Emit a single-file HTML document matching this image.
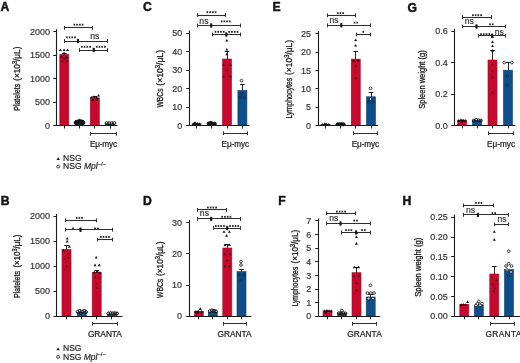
<!DOCTYPE html>
<html><head><meta charset="utf-8"><style>
html,body{margin:0;padding:0;background:#fff;}
svg{display:block;filter:blur(0.25px);}
text{font-family:"Liberation Sans", sans-serif;}
</style></head><body>
<svg width="520" height="363" viewBox="0 0 520 363">
<rect width="520" height="363" fill="#fff"/>
<text x="0.6" y="11.2" font-size="12.2" text-anchor="start" font-weight="bold" fill="#111" stroke="#111" stroke-width="0.45" >A</text>
<rect x="59.8" y="54.5" width="9" height="71.0" fill="#c6092c" stroke="#a3082a" stroke-width="0.6"/>
<rect x="75.0" y="122.5" width="9" height="3.0" fill="#0e4f8b" stroke="#0b3f70" stroke-width="0.6"/>
<rect x="90.3" y="97.8" width="9" height="27.700000000000003" fill="#c6092c" stroke="#a3082a" stroke-width="0.6"/>
<rect x="105.5" y="123.8" width="9" height="1.7000000000000028" fill="#0e4f8b" stroke="#0b3f70" stroke-width="0.6"/>
<line x1="64.5" y1="54.5" x2="64.5" y2="53" stroke="#111" stroke-width="0.9"/>
<line x1="62.0" y1="53.5" x2="66.6" y2="53.5" stroke="#111" stroke-width="1.0"/>
<path d="M58.90,51.10L60.40,48.49L61.90,51.10Z" fill="#111"/>
<path d="M62.60,51.10L64.10,48.49L65.60,51.10Z" fill="#111"/>
<path d="M66.00,51.10L67.50,48.49L69.00,51.10Z" fill="#111"/>
<path d="M62.60,54.30L64.10,51.70L65.60,54.30Z" fill="#111"/>
<path d="M60.00,57.80L61.50,55.20L63.00,57.80Z" fill="#111"/>
<path d="M65.00,58.30L66.50,55.70L68.00,58.30Z" fill="#111"/>
<g opacity="0.55">
<path d="M60.50,62.30L62.00,59.70L63.50,62.30Z" fill="#111"/>
</g>
<g opacity="0.55">
<path d="M65.50,62.30L67.00,59.70L68.50,62.30Z" fill="#111"/>
</g>
<g opacity="0.55">
<path d="M63.00,59.80L64.50,57.20L66.00,59.80Z" fill="#111"/>
</g>
<circle cx="75.6" cy="122.8" r="1.45" fill="#1a1a1a" stroke="#111" stroke-width="1.0"/>
<circle cx="77.6" cy="121.6" r="1.45" fill="#1a1a1a" stroke="#111" stroke-width="1.0"/>
<circle cx="79.6" cy="122.6" r="1.45" fill="#1a1a1a" stroke="#111" stroke-width="1.0"/>
<circle cx="81.6" cy="121.4" r="1.45" fill="#1a1a1a" stroke="#111" stroke-width="1.0"/>
<circle cx="83.4" cy="122.8" r="1.45" fill="#1a1a1a" stroke="#111" stroke-width="1.0"/>
<circle cx="77" cy="123.6" r="1.45" fill="#1a1a1a" stroke="#111" stroke-width="1.0"/>
<circle cx="82" cy="123.6" r="1.45" fill="#1a1a1a" stroke="#111" stroke-width="1.0"/>
<circle cx="79.5" cy="120.8" r="1.45" fill="#1a1a1a" stroke="#111" stroke-width="1.0"/>
<circle cx="78.5" cy="122.2" r="1.45" fill="#1a1a1a" stroke="#111" stroke-width="1.0"/>
<circle cx="80.6" cy="122.2" r="1.45" fill="#1a1a1a" stroke="#111" stroke-width="1.0"/>
<circle cx="76.4" cy="121.8" r="1.45" fill="#1a1a1a" stroke="#111" stroke-width="1.0"/>
<circle cx="82.8" cy="121.8" r="1.45" fill="#1a1a1a" stroke="#111" stroke-width="1.0"/>
<line x1="94.5" y1="97.8" x2="94.5" y2="96.5" stroke="#111" stroke-width="0.9"/>
<line x1="92.5" y1="96.5" x2="97.1" y2="96.5" stroke="#111" stroke-width="1.0"/>
<path d="M90.00,98.51L91.50,95.89L93.00,98.51Z" fill="#111"/>
<path d="M92.50,97.81L94.00,95.19L95.50,97.81Z" fill="#111"/>
<path d="M95.00,98.81L96.50,96.19L98.00,98.81Z" fill="#111"/>
<path d="M97.00,96.61L98.50,93.99L100.00,96.61Z" fill="#111"/>
<path d="M91.50,100.81L93.00,98.19L94.50,100.81Z" fill="#111"/>
<path d="M95.50,100.81L97.00,98.19L98.50,100.81Z" fill="#111"/>
<circle cx="106.6" cy="123.1" r="1.45" fill="none" stroke="#111" stroke-width="1.0"/>
<circle cx="109.2" cy="123.1" r="1.45" fill="none" stroke="#111" stroke-width="1.0"/>
<circle cx="111.8" cy="123.1" r="1.45" fill="none" stroke="#111" stroke-width="1.0"/>
<circle cx="114.4" cy="123.1" r="1.45" fill="none" stroke="#111" stroke-width="1.0"/>
<line x1="56.5" y1="29.2" x2="56.5" y2="126.0" stroke="#1a1a1a" stroke-width="1.1"/>
<line x1="55.75" y1="125.5" x2="117.5" y2="125.5" stroke="#1a1a1a" stroke-width="1.1"/>
<line x1="53.25" y1="31.5" x2="56.25" y2="31.5" stroke="#1a1a1a" stroke-width="1"/>
<text x="50.0" y="34.95" font-size="9" text-anchor="end" font-weight="normal" fill="#333" stroke="#333" stroke-width="0.18" >2000</text>
<line x1="53.25" y1="55.5" x2="56.25" y2="55.5" stroke="#1a1a1a" stroke-width="1"/>
<text x="50.0" y="58.45" font-size="9" text-anchor="end" font-weight="normal" fill="#333" stroke="#333" stroke-width="0.18" >1500</text>
<line x1="53.25" y1="78.5" x2="56.25" y2="78.5" stroke="#1a1a1a" stroke-width="1"/>
<text x="50.0" y="81.95" font-size="9" text-anchor="end" font-weight="normal" fill="#333" stroke="#333" stroke-width="0.18" >1000</text>
<line x1="53.25" y1="102.5" x2="56.25" y2="102.5" stroke="#1a1a1a" stroke-width="1"/>
<text x="50.0" y="105.45" font-size="9" text-anchor="end" font-weight="normal" fill="#333" stroke="#333" stroke-width="0.18" >500</text>
<line x1="53.25" y1="125.5" x2="56.25" y2="125.5" stroke="#1a1a1a" stroke-width="1"/>
<text x="50.0" y="128.7" font-size="9" text-anchor="end" font-weight="normal" fill="#333" stroke="#333" stroke-width="0.18" >0</text>
<line x1="64.5" y1="125.5" x2="64.5" y2="128.5" stroke="#1a1a1a" stroke-width="1"/>
<line x1="79.5" y1="125.5" x2="79.5" y2="128.5" stroke="#1a1a1a" stroke-width="1"/>
<line x1="94.5" y1="125.5" x2="94.5" y2="128.5" stroke="#1a1a1a" stroke-width="1"/>
<line x1="110.5" y1="125.5" x2="110.5" y2="128.5" stroke="#1a1a1a" stroke-width="1"/>
<text transform="translate(19.8,110.8) rotate(-90)" x="0" y="0" font-size="9.2" text-anchor="start" fill="#1a1a1a" stroke="#1a1a1a" stroke-width="0.3" textLength="27.00" lengthAdjust="spacingAndGlyphs">Platelets</text>
<text transform="translate(19.8,80.8) rotate(-90)" x="0" y="0" font-size="9.2" text-anchor="start" fill="#1a1a1a" stroke="#1a1a1a" stroke-width="0.3" textLength="34.20" lengthAdjust="spacingAndGlyphs">(×10<tspan font-size="6.3" dy="-2.8">3</tspan><tspan dy="2.8">/μL)</tspan></text>
<line x1="64.3" y1="27.5" x2="92.8" y2="27.5" stroke="#2e2e2e" stroke-width="1.1"/>
<line x1="64.5" y1="25.900000000000002" x2="64.5" y2="29.7" stroke="#2e2e2e" stroke-width="1.1"/>
<line x1="92.5" y1="25.900000000000002" x2="92.5" y2="29.7" stroke="#2e2e2e" stroke-width="1.1"/>
<path d="M74.38,23.75L74.38,25.65M73.55,24.22L75.20,25.18M73.55,25.18L75.20,24.22" stroke="#222" stroke-width="0.85" fill="none"/>
<path d="M77.12,23.75L77.12,25.65M76.30,24.22L77.95,25.18M76.30,25.18L77.95,24.22" stroke="#222" stroke-width="0.85" fill="none"/>
<path d="M79.88,23.75L79.88,25.65M79.05,24.22L80.70,25.18M79.05,25.18L80.70,24.22" stroke="#222" stroke-width="0.85" fill="none"/>
<path d="M82.62,23.75L82.62,25.65M81.80,24.22L83.45,25.18M81.80,25.18L83.45,24.22" stroke="#222" stroke-width="0.85" fill="none"/>
<line x1="64.3" y1="41.5" x2="107.5" y2="41.5" stroke="#2e2e2e" stroke-width="1.0"/>
<line x1="64.5" y1="39.1" x2="64.5" y2="42.9" stroke="#2e2e2e" stroke-width="1.0"/>
<line x1="107.5" y1="39.1" x2="107.5" y2="42.9" stroke="#2e2e2e" stroke-width="1.0"/>
<rect x="76.9" y="38.8" width="2.2" height="4.4" rx="0.7" fill="#1a1a1a"/>
<path d="M66.78,36.45L66.78,38.35M65.95,36.92L67.60,37.88M65.95,37.88L67.60,36.92" stroke="#222" stroke-width="0.85" fill="none"/>
<path d="M69.53,36.45L69.53,38.35M68.70,36.92L70.35,37.88M68.70,37.88L70.35,36.92" stroke="#222" stroke-width="0.85" fill="none"/>
<path d="M72.28,36.45L72.28,38.35M71.45,36.92L73.10,37.88M71.45,37.88L73.10,36.92" stroke="#222" stroke-width="0.85" fill="none"/>
<path d="M75.03,36.45L75.03,38.35M74.20,36.92L75.85,37.88M74.20,37.88L75.85,36.92" stroke="#222" stroke-width="0.85" fill="none"/>
<text x="94.75" y="38.5" font-size="8.6" text-anchor="middle" font-weight="normal" fill="#333" stroke="#333" stroke-width="0.18" >ns</text>
<line x1="79.5" y1="50.5" x2="107.5" y2="50.5" stroke="#2e2e2e" stroke-width="1.0"/>
<line x1="79.5" y1="48.1" x2="79.5" y2="51.9" stroke="#2e2e2e" stroke-width="1.0"/>
<line x1="107.5" y1="48.1" x2="107.5" y2="51.9" stroke="#2e2e2e" stroke-width="1.0"/>
<rect x="92.7" y="47.8" width="2.2" height="4.4" rx="0.7" fill="#1a1a1a"/>
<path d="M81.88,45.85L81.88,47.75M81.05,46.32L82.70,47.27M81.05,47.27L82.70,46.32" stroke="#222" stroke-width="0.85" fill="none"/>
<path d="M84.62,45.85L84.62,47.75M83.80,46.32L85.45,47.27M83.80,47.27L85.45,46.32" stroke="#222" stroke-width="0.85" fill="none"/>
<path d="M87.38,45.85L87.38,47.75M86.55,46.32L88.20,47.27M86.55,47.27L88.20,46.32" stroke="#222" stroke-width="0.85" fill="none"/>
<path d="M90.12,45.85L90.12,47.75M89.30,46.32L90.95,47.27M89.30,47.27L90.95,46.32" stroke="#222" stroke-width="0.85" fill="none"/>
<path d="M96.67,45.85L96.67,47.75M95.85,46.32L97.50,47.27M95.85,47.27L97.50,46.32" stroke="#222" stroke-width="0.85" fill="none"/>
<path d="M99.42,45.85L99.42,47.75M98.60,46.32L100.25,47.27M98.60,47.27L100.25,46.32" stroke="#222" stroke-width="0.85" fill="none"/>
<path d="M102.17,45.85L102.17,47.75M101.35,46.32L103.00,47.27M101.35,47.27L103.00,46.32" stroke="#222" stroke-width="0.85" fill="none"/>
<path d="M104.92,45.85L104.92,47.75M104.10,46.32L105.75,47.27M104.10,47.27L105.75,46.32" stroke="#222" stroke-width="0.85" fill="none"/>
<line x1="90.4" y1="133.5" x2="116.2" y2="133.5" stroke="#2e2e2e" stroke-width="1.0"/>
<line x1="90.5" y1="131.9" x2="90.5" y2="135.70000000000002" stroke="#2e2e2e" stroke-width="1.0"/>
<line x1="116.5" y1="131.9" x2="116.5" y2="135.70000000000002" stroke="#2e2e2e" stroke-width="1.0"/>
<text x="103.5" y="146.8" font-size="8.2" text-anchor="middle" font-weight="normal" fill="#222" stroke="#222" stroke-width="0.22" textLength="27" lengthAdjust="spacing" >Eμ-myc</text>
<text x="143.1" y="11.3" font-size="12.2" text-anchor="start" font-weight="bold" fill="#111" stroke="#111" stroke-width="0.45" >C</text>
<rect x="192.0" y="123.7" width="9" height="1.7999999999999972" fill="#c6092c" stroke="#a3082a" stroke-width="0.6"/>
<rect x="207.25" y="124.2" width="9" height="1.2999999999999972" fill="#0e4f8b" stroke="#0b3f70" stroke-width="0.6"/>
<rect x="222.5" y="59" width="9" height="66.5" fill="#c6092c" stroke="#a3082a" stroke-width="0.6"/>
<rect x="237.9" y="90.5" width="9" height="35.0" fill="#0e4f8b" stroke="#0b3f70" stroke-width="0.6"/>
<path d="M192.00,124.99L193.60,122.21L195.20,124.99Z" fill="#111"/>
<path d="M194.00,124.39L195.60,121.61L197.20,124.39Z" fill="#111"/>
<path d="M196.00,124.79L197.60,122.01L199.20,124.79Z" fill="#111"/>
<path d="M198.00,124.99L199.60,122.21L201.20,124.99Z" fill="#111"/>
<path d="M194.90,125.39L196.50,122.61L198.10,125.39Z" fill="#111"/>
<path d="M193.20,123.99L194.80,121.21L196.40,123.99Z" fill="#111"/>
<circle cx="208.6" cy="123.5" r="1.45" fill="#1a1a1a" stroke="#111" stroke-width="1.0"/>
<circle cx="210.6" cy="122.8" r="1.45" fill="#1a1a1a" stroke="#111" stroke-width="1.0"/>
<circle cx="212.6" cy="123.5" r="1.45" fill="#1a1a1a" stroke="#111" stroke-width="1.0"/>
<circle cx="214.8" cy="123.6" r="1.45" fill="#1a1a1a" stroke="#111" stroke-width="1.0"/>
<circle cx="211.5" cy="124" r="1.45" fill="#1a1a1a" stroke="#111" stroke-width="1.0"/>
<line x1="227.5" y1="59" x2="227.5" y2="51.2" stroke="#111" stroke-width="0.9"/>
<line x1="224.7" y1="51.5" x2="229.3" y2="51.5" stroke="#111" stroke-width="1.0"/>
<path d="M225.30,50.51L226.80,47.90L228.30,50.51Z" fill="#111"/>
<path d="M225.30,41.51L226.80,38.90L228.30,41.51Z" fill="#111"/>
<path d="M225.30,55.30L226.80,52.70L228.30,55.30Z" fill="#111"/>
<g opacity="0.55">
<path d="M222.00,65.91L223.50,63.29L225.00,65.91Z" fill="#111"/>
</g>
<g opacity="0.55">
<path d="M229.00,65.91L230.50,63.29L232.00,65.91Z" fill="#111"/>
</g>
<g opacity="0.55">
<path d="M222.00,77.51L223.50,74.89L225.00,77.51Z" fill="#111"/>
</g>
<g opacity="0.55">
<path d="M229.00,77.51L230.50,74.89L232.00,77.51Z" fill="#111"/>
</g>
<g opacity="0.55">
<path d="M225.50,71.31L227.00,68.69L228.50,71.31Z" fill="#111"/>
</g>
<line x1="242.5" y1="90.5" x2="242.5" y2="84.3" stroke="#111" stroke-width="0.9"/>
<line x1="240.1" y1="84.5" x2="244.70000000000002" y2="84.5" stroke="#111" stroke-width="1.0"/>
<circle cx="241.5" cy="80.7" r="1.35" fill="#fff" stroke="#111" stroke-width="0.8"/>
<g opacity="0.55">
<circle cx="242" cy="93.5" r="1.35" fill="none" stroke="#111" stroke-width="0.8"/>
</g>
<g opacity="0.55">
<circle cx="240" cy="97.5" r="1.35" fill="none" stroke="#111" stroke-width="0.8"/>
</g>
<g opacity="0.55">
<circle cx="244.5" cy="97.5" r="1.35" fill="none" stroke="#111" stroke-width="0.8"/>
</g>
<line x1="189.5" y1="30.5" x2="189.5" y2="126.0" stroke="#1a1a1a" stroke-width="1.1"/>
<line x1="188.75" y1="125.5" x2="249.5" y2="125.5" stroke="#1a1a1a" stroke-width="1.1"/>
<line x1="186.25" y1="33.5" x2="189.25" y2="33.5" stroke="#1a1a1a" stroke-width="1"/>
<text x="182.2" y="36.2" font-size="9" text-anchor="end" font-weight="normal" fill="#333" stroke="#333" stroke-width="0.18" >50</text>
<line x1="186.25" y1="51.5" x2="189.25" y2="51.5" stroke="#1a1a1a" stroke-width="1"/>
<text x="182.2" y="54.7" font-size="9" text-anchor="end" font-weight="normal" fill="#333" stroke="#333" stroke-width="0.18" >40</text>
<line x1="186.25" y1="70.5" x2="189.25" y2="70.5" stroke="#1a1a1a" stroke-width="1"/>
<text x="182.2" y="73.2" font-size="9" text-anchor="end" font-weight="normal" fill="#333" stroke="#333" stroke-width="0.18" >30</text>
<line x1="186.25" y1="88.5" x2="189.25" y2="88.5" stroke="#1a1a1a" stroke-width="1"/>
<text x="182.2" y="91.7" font-size="9" text-anchor="end" font-weight="normal" fill="#333" stroke="#333" stroke-width="0.18" >20</text>
<line x1="186.25" y1="107.5" x2="189.25" y2="107.5" stroke="#1a1a1a" stroke-width="1"/>
<text x="182.2" y="110.2" font-size="9" text-anchor="end" font-weight="normal" fill="#333" stroke="#333" stroke-width="0.18" >10</text>
<line x1="186.25" y1="125.5" x2="189.25" y2="125.5" stroke="#1a1a1a" stroke-width="1"/>
<text x="182.2" y="128.7" font-size="9" text-anchor="end" font-weight="normal" fill="#333" stroke="#333" stroke-width="0.18" >0</text>
<line x1="196.5" y1="125.5" x2="196.5" y2="128.5" stroke="#1a1a1a" stroke-width="1"/>
<line x1="211.5" y1="125.5" x2="211.5" y2="128.5" stroke="#1a1a1a" stroke-width="1"/>
<line x1="227.5" y1="125.5" x2="227.5" y2="128.5" stroke="#1a1a1a" stroke-width="1"/>
<line x1="242.5" y1="125.5" x2="242.5" y2="128.5" stroke="#1a1a1a" stroke-width="1"/>
<text transform="translate(163.2,107.5) rotate(-90)" x="0" y="0" font-size="9.2" text-anchor="start" fill="#1a1a1a" stroke="#1a1a1a" stroke-width="0.3" textLength="19.00" lengthAdjust="spacingAndGlyphs">WBCs</text>
<text transform="translate(163.2,85.7) rotate(-90)" x="0" y="0" font-size="9.2" text-anchor="start" fill="#1a1a1a" stroke="#1a1a1a" stroke-width="0.3" textLength="35.70" lengthAdjust="spacingAndGlyphs">(×10<tspan font-size="6.3" dy="-2.8">3</tspan><tspan dy="2.8">/μL)</tspan></text>
<line x1="197.5" y1="15.5" x2="225.5" y2="15.5" stroke="#2e2e2e" stroke-width="1.1"/>
<line x1="197.5" y1="13.1" x2="197.5" y2="16.9" stroke="#2e2e2e" stroke-width="1.1"/>
<line x1="225.5" y1="13.1" x2="225.5" y2="16.9" stroke="#2e2e2e" stroke-width="1.1"/>
<path d="M207.38,11.25L207.38,13.15M206.55,11.72L208.20,12.67M206.55,12.67L208.20,11.72" stroke="#222" stroke-width="0.85" fill="none"/>
<path d="M210.12,11.25L210.12,13.15M209.30,11.72L210.95,12.67M209.30,12.67L210.95,11.72" stroke="#222" stroke-width="0.85" fill="none"/>
<path d="M212.88,11.25L212.88,13.15M212.05,11.72L213.70,12.67M212.05,12.67L213.70,11.72" stroke="#222" stroke-width="0.85" fill="none"/>
<path d="M215.62,11.25L215.62,13.15M214.80,11.72L216.45,12.67M214.80,12.67L216.45,11.72" stroke="#222" stroke-width="0.85" fill="none"/>
<line x1="197.5" y1="25.5" x2="240.2" y2="25.5" stroke="#2e2e2e" stroke-width="1.0"/>
<line x1="197.5" y1="23.6" x2="197.5" y2="27.4" stroke="#2e2e2e" stroke-width="1.0"/>
<line x1="240.5" y1="23.6" x2="240.5" y2="27.4" stroke="#2e2e2e" stroke-width="1.0"/>
<rect x="210.1" y="23.3" width="2.2" height="4.4" rx="0.7" fill="#1a1a1a"/>
<text x="203.9" y="23.5" font-size="8.6" text-anchor="middle" font-weight="normal" fill="#333" stroke="#333" stroke-width="0.18" >ns</text>
<path d="M221.62,20.45L221.62,22.35M220.80,20.92L222.45,21.88M220.80,21.88L222.45,20.92" stroke="#222" stroke-width="0.85" fill="none"/>
<path d="M224.38,20.45L224.38,22.35M223.55,20.92L225.20,21.88M223.55,21.88L225.20,20.92" stroke="#222" stroke-width="0.85" fill="none"/>
<path d="M227.12,20.45L227.12,22.35M226.30,20.92L227.95,21.88M226.30,21.88L227.95,20.92" stroke="#222" stroke-width="0.85" fill="none"/>
<path d="M229.88,20.45L229.88,22.35M229.05,20.92L230.70,21.88M229.05,21.88L230.70,20.92" stroke="#222" stroke-width="0.85" fill="none"/>
<line x1="212.5" y1="34.5" x2="240.2" y2="34.5" stroke="#2e2e2e" stroke-width="1.0"/>
<line x1="212.5" y1="32.6" x2="212.5" y2="36.4" stroke="#2e2e2e" stroke-width="1.0"/>
<line x1="240.5" y1="32.6" x2="240.5" y2="36.4" stroke="#2e2e2e" stroke-width="1.0"/>
<rect x="225.20000000000002" y="32.3" width="2.2" height="4.4" rx="0.7" fill="#1a1a1a"/>
<path d="M215.47,30.85L215.47,32.75M214.65,31.32L216.30,32.27M214.65,32.27L216.30,31.32" stroke="#222" stroke-width="0.85" fill="none"/>
<path d="M218.22,30.85L218.22,32.75M217.40,31.32L219.05,32.27M217.40,32.27L219.05,31.32" stroke="#222" stroke-width="0.85" fill="none"/>
<path d="M220.97,30.85L220.97,32.75M220.15,31.32L221.80,32.27M220.15,32.27L221.80,31.32" stroke="#222" stroke-width="0.85" fill="none"/>
<path d="M223.72,30.85L223.72,32.75M222.90,31.32L224.55,32.27M222.90,32.27L224.55,31.32" stroke="#222" stroke-width="0.85" fill="none"/>
<path d="M229.18,30.85L229.18,32.75M228.35,31.32L230.00,32.27M228.35,32.27L230.00,31.32" stroke="#222" stroke-width="0.85" fill="none"/>
<path d="M231.93,30.85L231.93,32.75M231.10,31.32L232.75,32.27M231.10,32.27L232.75,31.32" stroke="#222" stroke-width="0.85" fill="none"/>
<path d="M234.68,30.85L234.68,32.75M233.85,31.32L235.50,32.27M233.85,32.27L235.50,31.32" stroke="#222" stroke-width="0.85" fill="none"/>
<path d="M237.43,30.85L237.43,32.75M236.60,31.32L238.25,32.27M236.60,32.27L238.25,31.32" stroke="#222" stroke-width="0.85" fill="none"/>
<line x1="223.25" y1="133.5" x2="247" y2="133.5" stroke="#2e2e2e" stroke-width="1.0"/>
<line x1="223.5" y1="131.35" x2="223.5" y2="135.15" stroke="#2e2e2e" stroke-width="1.0"/>
<line x1="247.5" y1="131.35" x2="247.5" y2="135.15" stroke="#2e2e2e" stroke-width="1.0"/>
<text x="235.3" y="146.5" font-size="8.2" text-anchor="middle" font-weight="normal" fill="#222" stroke="#222" stroke-width="0.22" textLength="27.5" lengthAdjust="spacing" >Eμ-myc</text>
<text x="272.5" y="11.3" font-size="12.2" text-anchor="start" font-weight="bold" fill="#111" stroke="#111" stroke-width="0.45" >E</text>
<rect x="321.0" y="124.4" width="9" height="1.0999999999999943" fill="#c6092c" stroke="#a3082a" stroke-width="0.6"/>
<rect x="336.0" y="124.6" width="9" height="0.9000000000000057" fill="#0e4f8b" stroke="#0b3f70" stroke-width="0.6"/>
<rect x="351.25" y="59.1" width="9" height="66.4" fill="#c6092c" stroke="#a3082a" stroke-width="0.6"/>
<rect x="366.5" y="96.8" width="9" height="28.700000000000003" fill="#0e4f8b" stroke="#0b3f70" stroke-width="0.6"/>
<path d="M321.00,125.69L322.60,122.91L324.20,125.69Z" fill="#111"/>
<path d="M323.00,124.99L324.60,122.21L326.20,124.99Z" fill="#111"/>
<path d="M325.00,125.29L326.60,122.51L328.20,125.29Z" fill="#111"/>
<path d="M327.00,125.69L328.60,122.91L330.20,125.69Z" fill="#111"/>
<path d="M323.90,125.99L325.50,123.21L327.10,125.99Z" fill="#111"/>
<circle cx="337.6" cy="124.3" r="1.45" fill="#1a1a1a" stroke="#111" stroke-width="1.0"/>
<circle cx="339.6" cy="124.1" r="1.45" fill="#1a1a1a" stroke="#111" stroke-width="1.0"/>
<circle cx="341.6" cy="124.1" r="1.45" fill="#1a1a1a" stroke="#111" stroke-width="1.0"/>
<circle cx="343.6" cy="124.3" r="1.45" fill="#1a1a1a" stroke="#111" stroke-width="1.0"/>
<line x1="355.5" y1="59.1" x2="355.5" y2="51.2" stroke="#111" stroke-width="0.9"/>
<line x1="353.45" y1="51.5" x2="358.05" y2="51.5" stroke="#111" stroke-width="1.0"/>
<path d="M354.10,46.60L355.60,43.99L357.10,46.60Z" fill="#111"/>
<path d="M354.10,41.10L355.60,38.49L357.10,41.10Z" fill="#111"/>
<g opacity="0.55">
<path d="M354.30,66.81L355.80,64.19L357.30,66.81Z" fill="#111"/>
</g>
<g opacity="0.55">
<path d="M354.30,79.31L355.80,76.69L357.30,79.31Z" fill="#111"/>
</g>
<path d="M351.80,61.80L353.30,59.20L354.80,61.80Z" fill="#111"/>
<path d="M356.70,61.80L358.20,59.20L359.70,61.80Z" fill="#111"/>
<line x1="371.5" y1="96.8" x2="371.5" y2="92.7" stroke="#111" stroke-width="0.9"/>
<line x1="368.7" y1="92.5" x2="373.3" y2="92.5" stroke="#111" stroke-width="1.0"/>
<circle cx="370.6" cy="88.4" r="1.35" fill="#fff" stroke="#111" stroke-width="0.8"/>
<circle cx="370.6" cy="99" r="1.35" fill="#fff" stroke="#111" stroke-width="0.8"/>
<g opacity="0.55">
<circle cx="368.5" cy="102" r="1.35" fill="none" stroke="#111" stroke-width="0.8"/>
</g>
<g opacity="0.55">
<circle cx="373" cy="102" r="1.35" fill="none" stroke="#111" stroke-width="0.8"/>
</g>
<line x1="318.5" y1="31" x2="318.5" y2="126.0" stroke="#1a1a1a" stroke-width="1.1"/>
<line x1="318.0" y1="125.5" x2="378" y2="125.5" stroke="#1a1a1a" stroke-width="1.1"/>
<line x1="315.5" y1="33.5" x2="318.5" y2="33.5" stroke="#1a1a1a" stroke-width="1"/>
<text x="311.1" y="36.95" font-size="9" text-anchor="end" font-weight="normal" fill="#333" stroke="#333" stroke-width="0.18" >25</text>
<line x1="315.5" y1="52.5" x2="318.5" y2="52.5" stroke="#1a1a1a" stroke-width="1"/>
<text x="311.1" y="55.300000000000004" font-size="9" text-anchor="end" font-weight="normal" fill="#333" stroke="#333" stroke-width="0.18" >20</text>
<line x1="315.5" y1="70.5" x2="318.5" y2="70.5" stroke="#1a1a1a" stroke-width="1"/>
<text x="311.1" y="73.60000000000001" font-size="9" text-anchor="end" font-weight="normal" fill="#333" stroke="#333" stroke-width="0.18" >15</text>
<line x1="315.5" y1="88.5" x2="318.5" y2="88.5" stroke="#1a1a1a" stroke-width="1"/>
<text x="311.1" y="92.0" font-size="9" text-anchor="end" font-weight="normal" fill="#333" stroke="#333" stroke-width="0.18" >10</text>
<line x1="315.5" y1="107.5" x2="318.5" y2="107.5" stroke="#1a1a1a" stroke-width="1"/>
<text x="311.1" y="110.3" font-size="9" text-anchor="end" font-weight="normal" fill="#333" stroke="#333" stroke-width="0.18" >5</text>
<line x1="315.5" y1="125.5" x2="318.5" y2="125.5" stroke="#1a1a1a" stroke-width="1"/>
<text x="311.1" y="128.7" font-size="9" text-anchor="end" font-weight="normal" fill="#333" stroke="#333" stroke-width="0.18" >0</text>
<line x1="325.5" y1="125.5" x2="325.5" y2="128.5" stroke="#1a1a1a" stroke-width="1"/>
<line x1="340.5" y1="125.5" x2="340.5" y2="128.5" stroke="#1a1a1a" stroke-width="1"/>
<line x1="355.5" y1="125.5" x2="355.5" y2="128.5" stroke="#1a1a1a" stroke-width="1"/>
<line x1="371.5" y1="125.5" x2="371.5" y2="128.5" stroke="#1a1a1a" stroke-width="1"/>
<text transform="translate(292.20000000000005,118.6) rotate(-90)" x="0" y="0" font-size="9.2" text-anchor="start" fill="#1a1a1a" stroke="#1a1a1a" stroke-width="0.3" textLength="40.80" lengthAdjust="spacingAndGlyphs">Lymphocytes</text>
<text transform="translate(292.20000000000005,75) rotate(-90)" x="0" y="0" font-size="9.2" text-anchor="start" fill="#1a1a1a" stroke="#1a1a1a" stroke-width="0.3" textLength="35.10" lengthAdjust="spacingAndGlyphs">(×10<tspan font-size="6.3" dy="-2.8">3</tspan><tspan dy="2.8">/μL)</tspan></text>
<line x1="327.5" y1="15.5" x2="355.5" y2="15.5" stroke="#2e2e2e" stroke-width="1.1"/>
<line x1="327.5" y1="13.4" x2="327.5" y2="17.2" stroke="#2e2e2e" stroke-width="1.1"/>
<line x1="355.5" y1="13.4" x2="355.5" y2="17.2" stroke="#2e2e2e" stroke-width="1.1"/>
<path d="M337.75,12.25L337.75,14.15M336.92,12.72L338.58,13.67M336.92,13.67L338.58,12.72" stroke="#222" stroke-width="0.85" fill="none"/>
<path d="M340.50,12.25L340.50,14.15M339.67,12.72L341.33,13.67M339.67,13.67L341.33,12.72" stroke="#222" stroke-width="0.85" fill="none"/>
<path d="M343.25,12.25L343.25,14.15M342.42,12.72L344.08,13.67M342.42,13.67L344.08,12.72" stroke="#222" stroke-width="0.85" fill="none"/>
<line x1="327.5" y1="25.5" x2="370.2" y2="25.5" stroke="#2e2e2e" stroke-width="1.0"/>
<line x1="327.5" y1="23.400000000000002" x2="327.5" y2="27.2" stroke="#2e2e2e" stroke-width="1.0"/>
<line x1="370.5" y1="23.400000000000002" x2="370.5" y2="27.2" stroke="#2e2e2e" stroke-width="1.0"/>
<rect x="340.2" y="23.1" width="2.2" height="4.4" rx="0.7" fill="#1a1a1a"/>
<text x="334" y="23" font-size="8.6" text-anchor="middle" font-weight="normal" fill="#333" stroke="#333" stroke-width="0.18" >ns</text>
<path d="M354.52,21.65L354.52,23.55M353.70,22.12L355.35,23.08M353.70,23.08L355.35,22.12" stroke="#222" stroke-width="0.85" fill="none"/>
<path d="M357.27,21.65L357.27,23.55M356.45,22.12L358.10,23.08M356.45,23.08L358.10,22.12" stroke="#222" stroke-width="0.85" fill="none"/>
<line x1="356.5" y1="34.5" x2="370.2" y2="34.5" stroke="#2e2e2e" stroke-width="1.1"/>
<line x1="356.5" y1="32.6" x2="356.5" y2="36.4" stroke="#2e2e2e" stroke-width="1.1"/>
<line x1="370.5" y1="32.6" x2="370.5" y2="36.4" stroke="#2e2e2e" stroke-width="1.1"/>
<path d="M363.30,30.85L363.30,32.75M362.47,31.32L364.13,32.27M362.47,32.27L364.13,31.32" stroke="#222" stroke-width="0.85" fill="none"/>
<line x1="353.25" y1="133.5" x2="377.5" y2="133.5" stroke="#2e2e2e" stroke-width="1.0"/>
<line x1="353.5" y1="131.35" x2="353.5" y2="135.15" stroke="#2e2e2e" stroke-width="1.0"/>
<line x1="377.5" y1="131.35" x2="377.5" y2="135.15" stroke="#2e2e2e" stroke-width="1.0"/>
<text x="365.4" y="146.5" font-size="8.2" text-anchor="middle" font-weight="normal" fill="#222" stroke="#222" stroke-width="0.22" textLength="27.5" lengthAdjust="spacing" >Eμ-myc</text>
<text x="407.5" y="11.5" font-size="12.2" text-anchor="start" font-weight="bold" fill="#111" stroke="#111" stroke-width="0.45" >G</text>
<rect x="457.5" y="120.2" width="9" height="5.099999999999994" fill="#c6092c" stroke="#a3082a" stroke-width="0.6"/>
<rect x="472.5" y="120.5" width="9" height="4.799999999999997" fill="#0e4f8b" stroke="#0b3f70" stroke-width="0.6"/>
<rect x="488.0" y="60" width="9" height="65.3" fill="#c6092c" stroke="#a3082a" stroke-width="0.6"/>
<rect x="503.5" y="70.2" width="9" height="55.099999999999994" fill="#0e4f8b" stroke="#0b3f70" stroke-width="0.6"/>
<path d="M457.20,121.69L458.80,118.91L460.40,121.69Z" fill="#111"/>
<path d="M459.40,120.99L461.00,118.21L462.60,120.99Z" fill="#111"/>
<path d="M461.60,121.59L463.20,118.81L464.80,121.59Z" fill="#111"/>
<path d="M463.60,121.79L465.20,119.01L466.80,121.79Z" fill="#111"/>
<path d="M460.40,122.59L462.00,119.81L463.60,122.59Z" fill="#111"/>
<circle cx="473.8" cy="120.6" r="1.45" fill="none" stroke="#111" stroke-width="1.0"/>
<circle cx="476.2" cy="119.9" r="1.45" fill="none" stroke="#111" stroke-width="1.0"/>
<circle cx="478.6" cy="120.3" r="1.45" fill="none" stroke="#111" stroke-width="1.0"/>
<circle cx="480.8" cy="120.6" r="1.45" fill="none" stroke="#111" stroke-width="1.0"/>
<line x1="492.5" y1="60" x2="492.5" y2="50.4" stroke="#111" stroke-width="0.9"/>
<line x1="490.2" y1="50.5" x2="494.8" y2="50.5" stroke="#111" stroke-width="1.0"/>
<path d="M491.00,37.70L492.50,35.09L494.00,37.70Z" fill="#111"/>
<path d="M491.00,43.01L492.50,40.40L494.00,43.01Z" fill="#111"/>
<path d="M491.00,47.10L492.50,44.49L494.00,47.10Z" fill="#111"/>
<path d="M491.00,51.70L492.50,49.09L494.00,51.70Z" fill="#111"/>
<g opacity="0.55">
<path d="M491.00,65.31L492.50,62.70L494.00,65.31Z" fill="#111"/>
</g>
<g opacity="0.55">
<path d="M491.00,72.31L492.50,69.69L494.00,72.31Z" fill="#111"/>
</g>
<g opacity="0.55">
<path d="M491.00,78.31L492.50,75.69L494.00,78.31Z" fill="#111"/>
</g>
<g opacity="0.55">
<path d="M491.00,93.31L492.50,90.69L494.00,93.31Z" fill="#111"/>
</g>
<line x1="508.5" y1="70.2" x2="508.5" y2="62.8" stroke="#111" stroke-width="0.9"/>
<line x1="505.7" y1="62.5" x2="510.3" y2="62.5" stroke="#111" stroke-width="1.0"/>
<circle cx="504.2" cy="62.6" r="1.35" fill="#fff" stroke="#111" stroke-width="0.8"/>
<circle cx="511.9" cy="62.6" r="1.35" fill="#fff" stroke="#111" stroke-width="0.8"/>
<g opacity="0.55">
<circle cx="507.4" cy="85" r="1.35" fill="none" stroke="#111" stroke-width="0.8"/>
</g>
<g opacity="0.55">
<circle cx="507.4" cy="76" r="1.35" fill="none" stroke="#111" stroke-width="0.8"/>
</g>
<line x1="454.5" y1="29" x2="454.5" y2="125.8" stroke="#1a1a1a" stroke-width="1.1"/>
<line x1="453.75" y1="125.5" x2="515.5" y2="125.5" stroke="#1a1a1a" stroke-width="1.1"/>
<line x1="451.25" y1="31.5" x2="454.25" y2="31.5" stroke="#1a1a1a" stroke-width="1"/>
<text x="447.8" y="34.45" font-size="9" text-anchor="end" font-weight="normal" fill="#333" stroke="#333" stroke-width="0.18" >0.6</text>
<line x1="451.25" y1="62.5" x2="454.25" y2="62.5" stroke="#1a1a1a" stroke-width="1"/>
<text x="447.8" y="65.8" font-size="9" text-anchor="end" font-weight="normal" fill="#333" stroke="#333" stroke-width="0.18" >0.4</text>
<line x1="451.25" y1="94.5" x2="454.25" y2="94.5" stroke="#1a1a1a" stroke-width="1"/>
<text x="447.8" y="97.2" font-size="9" text-anchor="end" font-weight="normal" fill="#333" stroke="#333" stroke-width="0.18" >0.2</text>
<line x1="451.25" y1="125.5" x2="454.25" y2="125.5" stroke="#1a1a1a" stroke-width="1"/>
<text x="447.8" y="128.5" font-size="9" text-anchor="end" font-weight="normal" fill="#333" stroke="#333" stroke-width="0.18" >0.0</text>
<line x1="462.5" y1="125.3" x2="462.5" y2="128.3" stroke="#1a1a1a" stroke-width="1"/>
<line x1="477.5" y1="125.3" x2="477.5" y2="128.3" stroke="#1a1a1a" stroke-width="1"/>
<line x1="492.5" y1="125.3" x2="492.5" y2="128.3" stroke="#1a1a1a" stroke-width="1"/>
<line x1="508.5" y1="125.3" x2="508.5" y2="128.3" stroke="#1a1a1a" stroke-width="1"/>
<text transform="translate(424.90000000000003,108.8) rotate(-90)" x="0" y="0" font-size="9.2" text-anchor="start" fill="#1a1a1a" stroke="#1a1a1a" stroke-width="0.3" textLength="58.50" lengthAdjust="spacingAndGlyphs">Spleen weight (g)</text>
<line x1="462.5" y1="17.5" x2="491.3" y2="17.5" stroke="#2e2e2e" stroke-width="1.1"/>
<line x1="462.5" y1="15.200000000000001" x2="462.5" y2="19.0" stroke="#2e2e2e" stroke-width="1.1"/>
<line x1="491.5" y1="15.200000000000001" x2="491.5" y2="19.0" stroke="#2e2e2e" stroke-width="1.1"/>
<path d="M472.88,14.25L472.88,16.15M472.05,14.72L473.70,15.67M472.05,15.67L473.70,14.72" stroke="#222" stroke-width="0.85" fill="none"/>
<path d="M475.62,14.25L475.62,16.15M474.80,14.72L476.45,15.67M474.80,15.67L476.45,14.72" stroke="#222" stroke-width="0.85" fill="none"/>
<path d="M478.38,14.25L478.38,16.15M477.55,14.72L479.20,15.67M477.55,15.67L479.20,14.72" stroke="#222" stroke-width="0.85" fill="none"/>
<path d="M481.12,14.25L481.12,16.15M480.30,14.72L481.95,15.67M480.30,15.67L481.95,14.72" stroke="#222" stroke-width="0.85" fill="none"/>
<line x1="462.5" y1="26.5" x2="505.7" y2="26.5" stroke="#2e2e2e" stroke-width="1.0"/>
<line x1="462.5" y1="24.6" x2="462.5" y2="28.4" stroke="#2e2e2e" stroke-width="1.0"/>
<line x1="505.5" y1="24.6" x2="505.5" y2="28.4" stroke="#2e2e2e" stroke-width="1.0"/>
<rect x="475.4" y="24.3" width="2.2" height="4.4" rx="0.7" fill="#1a1a1a"/>
<text x="469.2" y="23.5" font-size="8.6" text-anchor="middle" font-weight="normal" fill="#333" stroke="#333" stroke-width="0.18" >ns</text>
<path d="M489.93,23.45L489.93,25.35M489.10,23.92L490.75,24.88M489.10,24.88L490.75,23.92" stroke="#222" stroke-width="0.85" fill="none"/>
<path d="M492.68,23.45L492.68,25.35M491.85,23.92L493.50,24.88M491.85,24.88L493.50,23.92" stroke="#222" stroke-width="0.85" fill="none"/>
<line x1="478" y1="35.5" x2="505.7" y2="35.5" stroke="#2e2e2e" stroke-width="1.0"/>
<line x1="478.5" y1="33.800000000000004" x2="478.5" y2="37.6" stroke="#2e2e2e" stroke-width="1.0"/>
<line x1="505.5" y1="33.800000000000004" x2="505.5" y2="37.6" stroke="#2e2e2e" stroke-width="1.0"/>
<rect x="490.9" y="33.5" width="2.2" height="4.4" rx="0.7" fill="#1a1a1a"/>
<path d="M481.07,33.25L481.07,35.15M480.25,33.73L481.90,34.68M480.25,34.68L481.90,33.73" stroke="#222" stroke-width="0.85" fill="none"/>
<path d="M483.82,33.25L483.82,35.15M483.00,33.73L484.65,34.68M483.00,34.68L484.65,33.73" stroke="#222" stroke-width="0.85" fill="none"/>
<path d="M486.57,33.25L486.57,35.15M485.75,33.73L487.40,34.68M485.75,34.68L487.40,33.73" stroke="#222" stroke-width="0.85" fill="none"/>
<path d="M489.32,33.25L489.32,35.15M488.50,33.73L490.15,34.68M488.50,34.68L490.15,33.73" stroke="#222" stroke-width="0.85" fill="none"/>
<text x="499.2" y="35.1" font-size="8.6" text-anchor="middle" font-weight="normal" fill="#333" stroke="#333" stroke-width="0.18" >ns</text>
<line x1="488.75" y1="133.5" x2="513.25" y2="133.5" stroke="#2e2e2e" stroke-width="1.0"/>
<line x1="488.5" y1="131.35" x2="488.5" y2="135.15" stroke="#2e2e2e" stroke-width="1.0"/>
<line x1="513.5" y1="131.35" x2="513.5" y2="135.15" stroke="#2e2e2e" stroke-width="1.0"/>
<text x="501" y="146.5" font-size="8.2" text-anchor="middle" font-weight="normal" fill="#222" stroke="#222" stroke-width="0.22" textLength="28" lengthAdjust="spacing" >Eμ-myc</text>
<text x="0.8" y="204.6" font-size="12.2" text-anchor="start" font-weight="bold" fill="#111" stroke="#111" stroke-width="0.45" >B</text>
<rect x="62.0" y="249.4" width="9" height="66.85" fill="#c6092c" stroke="#a3082a" stroke-width="0.6"/>
<rect x="77.25" y="312.5" width="9" height="3.75" fill="#0e4f8b" stroke="#0b3f70" stroke-width="0.6"/>
<rect x="92.2" y="272.3" width="9" height="43.94999999999999" fill="#c6092c" stroke="#a3082a" stroke-width="0.6"/>
<rect x="107.4" y="314" width="9" height="2.25" fill="#0e4f8b" stroke="#0b3f70" stroke-width="0.6"/>
<line x1="66.5" y1="249.4" x2="66.5" y2="245.7" stroke="#111" stroke-width="0.9"/>
<line x1="64.2" y1="245.5" x2="68.8" y2="245.5" stroke="#111" stroke-width="1.0"/>
<path d="M65.70,239.61L67.20,237.00L68.70,239.61Z" fill="#111"/>
<path d="M65.70,242.41L67.20,239.79L68.70,242.41Z" fill="#111"/>
<path d="M67.90,247.71L69.40,245.09L70.90,247.71Z" fill="#111"/>
<path d="M61.90,251.31L63.40,248.69L64.90,251.31Z" fill="#111"/>
<g opacity="0.55">
<path d="M66.40,254.31L67.90,251.69L69.40,254.31Z" fill="#111"/>
</g>
<g opacity="0.55">
<path d="M63.40,260.31L64.90,257.69L66.40,260.31Z" fill="#111"/>
</g>
<g opacity="0.55">
<path d="M66.90,258.81L68.40,256.19L69.90,258.81Z" fill="#111"/>
</g>
<g opacity="0.55">
<path d="M64.90,267.31L66.40,264.69L67.90,267.31Z" fill="#111"/>
</g>
<circle cx="77.6" cy="311.8" r="1.45" fill="none" stroke="#111" stroke-width="1.0"/>
<circle cx="79.8" cy="310.8" r="1.45" fill="none" stroke="#111" stroke-width="1.0"/>
<circle cx="82" cy="311.6" r="1.45" fill="none" stroke="#111" stroke-width="1.0"/>
<circle cx="84.4" cy="310.8" r="1.45" fill="none" stroke="#111" stroke-width="1.0"/>
<circle cx="86" cy="312" r="1.45" fill="none" stroke="#111" stroke-width="1.0"/>
<circle cx="80.6" cy="313.2" r="1.45" fill="none" stroke="#111" stroke-width="1.0"/>
<line x1="96.5" y1="272.3" x2="96.5" y2="270.5" stroke="#111" stroke-width="0.9"/>
<line x1="94.4" y1="270.5" x2="99.0" y2="270.5" stroke="#111" stroke-width="1.0"/>
<path d="M94.70,258.61L96.20,256.00L97.70,258.61Z" fill="#111"/>
<path d="M93.50,266.20L95.00,263.59L96.50,266.20Z" fill="#111"/>
<path d="M97.70,266.20L99.20,263.59L100.70,266.20Z" fill="#111"/>
<path d="M93.00,273.31L94.50,270.69L96.00,273.31Z" fill="#111"/>
<path d="M96.00,272.81L97.50,270.19L99.00,272.81Z" fill="#111"/>
<path d="M98.50,273.81L100.00,271.19L101.50,273.81Z" fill="#111"/>
<g opacity="0.55">
<path d="M93.50,278.31L95.00,275.69L96.50,278.31Z" fill="#111"/>
</g>
<g opacity="0.55">
<path d="M97.50,278.31L99.00,275.69L100.50,278.31Z" fill="#111"/>
</g>
<g opacity="0.55">
<path d="M95.50,284.31L97.00,281.69L98.50,284.31Z" fill="#111"/>
</g>
<g opacity="0.55">
<path d="M95.50,288.81L97.00,286.19L98.50,288.81Z" fill="#111"/>
</g>
<circle cx="108.4" cy="313.4" r="1.45" fill="none" stroke="#111" stroke-width="1.0"/>
<circle cx="110.6" cy="313.1" r="1.45" fill="none" stroke="#111" stroke-width="1.0"/>
<circle cx="112.8" cy="313.3" r="1.45" fill="none" stroke="#111" stroke-width="1.0"/>
<circle cx="115" cy="313.2" r="1.45" fill="none" stroke="#111" stroke-width="1.0"/>
<circle cx="117" cy="313.5" r="1.45" fill="none" stroke="#111" stroke-width="1.0"/>
<line x1="56.5" y1="214" x2="56.5" y2="316.75" stroke="#1a1a1a" stroke-width="1.1"/>
<line x1="56.0" y1="316.5" x2="122.5" y2="316.5" stroke="#1a1a1a" stroke-width="1.1"/>
<line x1="53.5" y1="216.5" x2="56.5" y2="216.5" stroke="#1a1a1a" stroke-width="1"/>
<text x="50.0" y="219.45" font-size="9" text-anchor="end" font-weight="normal" fill="#333" stroke="#333" stroke-width="0.18" >2000</text>
<line x1="53.5" y1="241.5" x2="56.5" y2="241.5" stroke="#1a1a1a" stroke-width="1"/>
<text x="50.0" y="244.45" font-size="9" text-anchor="end" font-weight="normal" fill="#333" stroke="#333" stroke-width="0.18" >1500</text>
<line x1="53.5" y1="266.5" x2="56.5" y2="266.5" stroke="#1a1a1a" stroke-width="1"/>
<text x="50.0" y="269.45" font-size="9" text-anchor="end" font-weight="normal" fill="#333" stroke="#333" stroke-width="0.18" >1000</text>
<line x1="53.5" y1="291.5" x2="56.5" y2="291.5" stroke="#1a1a1a" stroke-width="1"/>
<text x="50.0" y="294.45" font-size="9" text-anchor="end" font-weight="normal" fill="#333" stroke="#333" stroke-width="0.18" >500</text>
<line x1="53.5" y1="316.5" x2="56.5" y2="316.5" stroke="#1a1a1a" stroke-width="1"/>
<text x="50.0" y="319.45" font-size="9" text-anchor="end" font-weight="normal" fill="#333" stroke="#333" stroke-width="0.18" >0</text>
<line x1="66.5" y1="316.25" x2="66.5" y2="319.25" stroke="#1a1a1a" stroke-width="1"/>
<line x1="81.5" y1="316.25" x2="81.5" y2="319.25" stroke="#1a1a1a" stroke-width="1"/>
<line x1="96.5" y1="316.25" x2="96.5" y2="319.25" stroke="#1a1a1a" stroke-width="1"/>
<line x1="111.5" y1="316.25" x2="111.5" y2="319.25" stroke="#1a1a1a" stroke-width="1"/>
<text transform="translate(19.8,298) rotate(-90)" x="0" y="0" font-size="9.2" text-anchor="start" fill="#1a1a1a" stroke="#1a1a1a" stroke-width="0.3" textLength="27.00" lengthAdjust="spacingAndGlyphs">Platelets</text>
<text transform="translate(19.8,267.6) rotate(-90)" x="0" y="0" font-size="9.2" text-anchor="start" fill="#1a1a1a" stroke="#1a1a1a" stroke-width="0.3" textLength="33.00" lengthAdjust="spacingAndGlyphs">(×10<tspan font-size="6.3" dy="-2.8">3</tspan><tspan dy="2.8">/μL)</tspan></text>
<line x1="65.6" y1="220.5" x2="96.4" y2="220.5" stroke="#2e2e2e" stroke-width="1.1"/>
<line x1="65.5" y1="218.5" x2="65.5" y2="222.3" stroke="#2e2e2e" stroke-width="1.1"/>
<line x1="96.5" y1="218.5" x2="96.5" y2="222.3" stroke="#2e2e2e" stroke-width="1.1"/>
<path d="M76.65,216.95L76.65,218.85M75.82,217.43L77.48,218.38M75.82,218.38L77.48,217.43" stroke="#222" stroke-width="0.85" fill="none"/>
<path d="M79.40,216.95L79.40,218.85M78.57,217.43L80.23,218.38M78.57,218.38L80.23,217.43" stroke="#222" stroke-width="0.85" fill="none"/>
<path d="M82.15,216.95L82.15,218.85M81.32,217.43L82.98,218.38M81.32,218.38L82.98,217.43" stroke="#222" stroke-width="0.85" fill="none"/>
<line x1="65.6" y1="229.5" x2="112" y2="229.5" stroke="#2e2e2e" stroke-width="1.0"/>
<line x1="65.5" y1="227.79999999999998" x2="65.5" y2="231.6" stroke="#2e2e2e" stroke-width="1.0"/>
<line x1="112.5" y1="227.79999999999998" x2="112.5" y2="231.6" stroke="#2e2e2e" stroke-width="1.0"/>
<rect x="79.4" y="227.5" width="2.2" height="4.4" rx="0.7" fill="#1a1a1a"/>
<path d="M73.10,227.45L73.10,229.35M72.27,227.93L73.93,228.88M72.27,228.88L73.93,227.93" stroke="#222" stroke-width="0.85" fill="none"/>
<path d="M95.12,227.45L95.12,229.35M94.30,227.93L95.95,228.88M94.30,228.88L95.95,227.93" stroke="#222" stroke-width="0.85" fill="none"/>
<path d="M97.88,227.45L97.88,229.35M97.05,227.93L98.70,228.88M97.05,228.88L98.70,227.93" stroke="#222" stroke-width="0.85" fill="none"/>
<line x1="97.5" y1="239.5" x2="112" y2="239.5" stroke="#2e2e2e" stroke-width="1.1"/>
<line x1="97.5" y1="237.7" x2="97.5" y2="241.5" stroke="#2e2e2e" stroke-width="1.1"/>
<line x1="112.5" y1="237.7" x2="112.5" y2="241.5" stroke="#2e2e2e" stroke-width="1.1"/>
<path d="M100.78,235.95L100.78,237.85M99.95,236.43L101.60,237.38M99.95,237.38L101.60,236.43" stroke="#222" stroke-width="0.85" fill="none"/>
<path d="M103.53,235.95L103.53,237.85M102.70,236.43L104.35,237.38M102.70,237.38L104.35,236.43" stroke="#222" stroke-width="0.85" fill="none"/>
<path d="M106.28,235.95L106.28,237.85M105.45,236.43L107.10,237.38M105.45,237.38L107.10,236.43" stroke="#222" stroke-width="0.85" fill="none"/>
<path d="M109.03,235.95L109.03,237.85M108.20,236.43L109.85,237.38M108.20,237.38L109.85,236.43" stroke="#222" stroke-width="0.85" fill="none"/>
<line x1="92.3" y1="323.5" x2="117.9" y2="323.5" stroke="#2e2e2e" stroke-width="1.0"/>
<line x1="92.5" y1="321.85" x2="92.5" y2="325.65" stroke="#2e2e2e" stroke-width="1.0"/>
<line x1="117.5" y1="321.85" x2="117.5" y2="325.65" stroke="#2e2e2e" stroke-width="1.0"/>
<text x="104.9" y="337.3" font-size="8.4" text-anchor="middle" font-weight="normal" fill="#222" stroke="#222" stroke-width="0.22" textLength="34" lengthAdjust="spacing" >GRANTA</text>
<text x="143.1" y="204.6" font-size="12.2" text-anchor="start" font-weight="bold" fill="#111" stroke="#111" stroke-width="0.45" >D</text>
<rect x="194.3" y="311.3" width="9" height="4.949999999999989" fill="#c6092c" stroke="#a3082a" stroke-width="0.6"/>
<rect x="208.3" y="312" width="9" height="4.25" fill="#0e4f8b" stroke="#0b3f70" stroke-width="0.6"/>
<rect x="222.8" y="248" width="9" height="68.25" fill="#c6092c" stroke="#a3082a" stroke-width="0.6"/>
<rect x="237.0" y="271.6" width="9" height="44.64999999999998" fill="#0e4f8b" stroke="#0b3f70" stroke-width="0.6"/>
<path d="M198.60,309.99L200.20,307.21L201.80,309.99Z" fill="#111"/>
<path d="M194.40,312.69L196.00,309.91L197.60,312.69Z" fill="#111"/>
<path d="M196.60,312.39L198.20,309.61L199.80,312.39Z" fill="#111"/>
<path d="M200.20,312.79L201.80,310.01L203.40,312.79Z" fill="#111"/>
<path d="M195.60,313.69L197.20,310.91L198.80,313.69Z" fill="#111"/>
<circle cx="209.8" cy="311.2" r="1.45" fill="none" stroke="#111" stroke-width="1.0"/>
<circle cx="212" cy="310.3" r="1.45" fill="none" stroke="#111" stroke-width="1.0"/>
<circle cx="214" cy="310.8" r="1.45" fill="none" stroke="#111" stroke-width="1.0"/>
<circle cx="215.8" cy="311.4" r="1.45" fill="none" stroke="#111" stroke-width="1.0"/>
<line x1="227.5" y1="248" x2="227.5" y2="244.6" stroke="#111" stroke-width="0.9"/>
<line x1="225.0" y1="244.5" x2="229.60000000000002" y2="244.5" stroke="#111" stroke-width="1.0"/>
<path d="M222.50,232.81L224.00,230.19L225.50,232.81Z" fill="#111"/>
<path d="M227.80,232.81L229.30,230.19L230.80,232.81Z" fill="#111"/>
<path d="M225.10,236.81L226.60,234.19L228.10,236.81Z" fill="#111"/>
<path d="M223.50,245.91L225.00,243.29L226.50,245.91Z" fill="#111"/>
<path d="M228.00,245.91L229.50,243.29L231.00,245.91Z" fill="#111"/>
<g opacity="0.55">
<path d="M223.00,255.31L224.50,252.69L226.00,255.31Z" fill="#111"/>
</g>
<g opacity="0.55">
<path d="M228.50,255.31L230.00,252.69L231.50,255.31Z" fill="#111"/>
</g>
<g opacity="0.55">
<path d="M225.50,261.31L227.00,258.69L228.50,261.31Z" fill="#111"/>
</g>
<g opacity="0.55">
<path d="M223.50,267.31L225.00,264.69L226.50,267.31Z" fill="#111"/>
</g>
<g opacity="0.55">
<path d="M228.00,267.31L229.50,264.69L231.00,267.31Z" fill="#111"/>
</g>
<line x1="241.5" y1="271.6" x2="241.5" y2="269" stroke="#111" stroke-width="0.9"/>
<line x1="239.2" y1="269.5" x2="243.8" y2="269.5" stroke="#111" stroke-width="1.0"/>
<circle cx="241" cy="261.6" r="1.35" fill="#fff" stroke="#111" stroke-width="0.8"/>
<circle cx="241" cy="265" r="1.35" fill="#fff" stroke="#111" stroke-width="0.8"/>
<g opacity="0.55">
<circle cx="239" cy="275" r="1.35" fill="none" stroke="#111" stroke-width="0.8"/>
</g>
<g opacity="0.55">
<circle cx="243.8" cy="275" r="1.35" fill="none" stroke="#111" stroke-width="0.8"/>
</g>
<g opacity="0.55">
<circle cx="241" cy="280" r="1.35" fill="none" stroke="#111" stroke-width="0.8"/>
</g>
<line x1="189.5" y1="220" x2="189.5" y2="316.75" stroke="#1a1a1a" stroke-width="1.1"/>
<line x1="188.75" y1="316.5" x2="251.25" y2="316.5" stroke="#1a1a1a" stroke-width="1.1"/>
<line x1="186.25" y1="222.5" x2="189.25" y2="222.5" stroke="#1a1a1a" stroke-width="1"/>
<text x="181.9" y="225.7" font-size="9" text-anchor="end" font-weight="normal" fill="#333" stroke="#333" stroke-width="0.18" >30</text>
<line x1="186.25" y1="253.5" x2="189.25" y2="253.5" stroke="#1a1a1a" stroke-width="1"/>
<text x="181.9" y="256.95" font-size="9" text-anchor="end" font-weight="normal" fill="#333" stroke="#333" stroke-width="0.18" >20</text>
<line x1="186.25" y1="285.5" x2="189.25" y2="285.5" stroke="#1a1a1a" stroke-width="1"/>
<text x="181.9" y="288.2" font-size="9" text-anchor="end" font-weight="normal" fill="#333" stroke="#333" stroke-width="0.18" >10</text>
<line x1="186.25" y1="316.5" x2="189.25" y2="316.5" stroke="#1a1a1a" stroke-width="1"/>
<text x="181.9" y="319.45" font-size="9" text-anchor="end" font-weight="normal" fill="#333" stroke="#333" stroke-width="0.18" >0</text>
<line x1="198.5" y1="316.25" x2="198.5" y2="319.25" stroke="#1a1a1a" stroke-width="1"/>
<line x1="212.5" y1="316.25" x2="212.5" y2="319.25" stroke="#1a1a1a" stroke-width="1"/>
<line x1="227.5" y1="316.25" x2="227.5" y2="319.25" stroke="#1a1a1a" stroke-width="1"/>
<line x1="241.5" y1="316.25" x2="241.5" y2="319.25" stroke="#1a1a1a" stroke-width="1"/>
<text transform="translate(163.2,298) rotate(-90)" x="0" y="0" font-size="9.2" text-anchor="start" fill="#1a1a1a" stroke="#1a1a1a" stroke-width="0.3" textLength="19.20" lengthAdjust="spacingAndGlyphs">WBCs</text>
<text transform="translate(163.2,276) rotate(-90)" x="0" y="0" font-size="9.2" text-anchor="start" fill="#1a1a1a" stroke="#1a1a1a" stroke-width="0.3" textLength="34.50" lengthAdjust="spacingAndGlyphs">(×10<tspan font-size="6.3" dy="-2.8">3</tspan><tspan dy="2.8">/μL)</tspan></text>
<line x1="197.7" y1="209.5" x2="226.3" y2="209.5" stroke="#2e2e2e" stroke-width="1.1"/>
<line x1="197.5" y1="208.0" x2="197.5" y2="211.8" stroke="#2e2e2e" stroke-width="1.1"/>
<line x1="226.5" y1="208.0" x2="226.5" y2="211.8" stroke="#2e2e2e" stroke-width="1.1"/>
<path d="M207.88,206.55L207.88,208.45M207.05,207.03L208.70,207.97M207.05,207.97L208.70,207.03" stroke="#222" stroke-width="0.85" fill="none"/>
<path d="M210.62,206.55L210.62,208.45M209.80,207.03L211.45,207.97M209.80,207.97L211.45,207.03" stroke="#222" stroke-width="0.85" fill="none"/>
<path d="M213.38,206.55L213.38,208.45M212.55,207.03L214.20,207.97M212.55,207.97L214.20,207.03" stroke="#222" stroke-width="0.85" fill="none"/>
<path d="M216.12,206.55L216.12,208.45M215.30,207.03L216.95,207.97M215.30,207.97L216.95,207.03" stroke="#222" stroke-width="0.85" fill="none"/>
<line x1="197.7" y1="218.5" x2="240.6" y2="218.5" stroke="#2e2e2e" stroke-width="1.0"/>
<line x1="197.5" y1="217.0" x2="197.5" y2="220.8" stroke="#2e2e2e" stroke-width="1.0"/>
<line x1="240.5" y1="217.0" x2="240.5" y2="220.8" stroke="#2e2e2e" stroke-width="1.0"/>
<rect x="210.1" y="216.70000000000002" width="2.2" height="4.4" rx="0.7" fill="#1a1a1a"/>
<text x="204.4" y="216.4" font-size="8.6" text-anchor="middle" font-weight="normal" fill="#333" stroke="#333" stroke-width="0.18" >ns</text>
<path d="M222.18,215.85L222.18,217.75M221.35,216.33L223.00,217.28M221.35,217.28L223.00,216.33" stroke="#222" stroke-width="0.85" fill="none"/>
<path d="M224.93,215.85L224.93,217.75M224.10,216.33L225.75,217.28M224.10,217.28L225.75,216.33" stroke="#222" stroke-width="0.85" fill="none"/>
<path d="M227.68,215.85L227.68,217.75M226.85,216.33L228.50,217.28M226.85,217.28L228.50,216.33" stroke="#222" stroke-width="0.85" fill="none"/>
<path d="M230.43,215.85L230.43,217.75M229.60,216.33L231.25,217.28M229.60,217.28L231.25,216.33" stroke="#222" stroke-width="0.85" fill="none"/>
<line x1="213.3" y1="228.5" x2="240.6" y2="228.5" stroke="#2e2e2e" stroke-width="1.0"/>
<line x1="213.5" y1="226.1" x2="213.5" y2="229.9" stroke="#2e2e2e" stroke-width="1.0"/>
<line x1="240.5" y1="226.1" x2="240.5" y2="229.9" stroke="#2e2e2e" stroke-width="1.0"/>
<rect x="226.0" y="225.8" width="2.2" height="4.4" rx="0.7" fill="#1a1a1a"/>
<path d="M215.78,225.05L215.78,226.95M214.95,225.53L216.60,226.47M214.95,226.47L216.60,225.53" stroke="#222" stroke-width="0.85" fill="none"/>
<path d="M218.53,225.05L218.53,226.95M217.70,225.53L219.35,226.47M217.70,226.47L219.35,225.53" stroke="#222" stroke-width="0.85" fill="none"/>
<path d="M221.28,225.05L221.28,226.95M220.45,225.53L222.10,226.47M220.45,226.47L222.10,225.53" stroke="#222" stroke-width="0.85" fill="none"/>
<path d="M224.03,225.05L224.03,226.95M223.20,225.53L224.85,226.47M223.20,226.47L224.85,225.53" stroke="#222" stroke-width="0.85" fill="none"/>
<path d="M230.07,225.05L230.07,226.95M229.25,225.53L230.90,226.47M229.25,226.47L230.90,225.53" stroke="#222" stroke-width="0.85" fill="none"/>
<path d="M232.82,225.05L232.82,226.95M232.00,225.53L233.65,226.47M232.00,226.47L233.65,225.53" stroke="#222" stroke-width="0.85" fill="none"/>
<path d="M235.57,225.05L235.57,226.95M234.75,225.53L236.40,226.47M234.75,226.47L236.40,225.53" stroke="#222" stroke-width="0.85" fill="none"/>
<path d="M238.32,225.05L238.32,226.95M237.50,225.53L239.15,226.47M237.50,226.47L239.15,225.53" stroke="#222" stroke-width="0.85" fill="none"/>
<line x1="223" y1="323.5" x2="246.25" y2="323.5" stroke="#2e2e2e" stroke-width="1.0"/>
<line x1="223.5" y1="321.85" x2="223.5" y2="325.65" stroke="#2e2e2e" stroke-width="1.0"/>
<line x1="246.5" y1="321.85" x2="246.5" y2="325.65" stroke="#2e2e2e" stroke-width="1.0"/>
<text x="234.5" y="337.3" font-size="8.4" text-anchor="middle" font-weight="normal" fill="#222" stroke="#222" stroke-width="0.22" textLength="34" lengthAdjust="spacing" >GRANTA</text>
<text x="278.3" y="204.6" font-size="12.2" text-anchor="start" font-weight="bold" fill="#111" stroke="#111" stroke-width="0.45" >F</text>
<rect x="323.0" y="310.8" width="9" height="5.449999999999989" fill="#c6092c" stroke="#a3082a" stroke-width="0.6"/>
<rect x="337.4" y="313.2" width="9" height="3.0500000000000114" fill="#0e4f8b" stroke="#0b3f70" stroke-width="0.6"/>
<rect x="352.0" y="272.7" width="9" height="43.55000000000001" fill="#c6092c" stroke="#a3082a" stroke-width="0.6"/>
<rect x="366.2" y="297" width="9" height="19.25" fill="#0e4f8b" stroke="#0b3f70" stroke-width="0.6"/>
<path d="M323.20,312.19L324.80,309.41L326.40,312.19Z" fill="#111"/>
<path d="M325.40,311.79L327.00,309.01L328.60,311.79Z" fill="#111"/>
<path d="M327.60,311.99L329.20,309.21L330.80,311.99Z" fill="#111"/>
<path d="M329.60,312.19L331.20,309.41L332.80,312.19Z" fill="#111"/>
<path d="M324.40,313.39L326.00,310.61L327.60,313.39Z" fill="#111"/>
<circle cx="341.8" cy="310.6" r="1.45" fill="none" stroke="#111" stroke-width="1.0"/>
<circle cx="338.8" cy="313.2" r="1.45" fill="none" stroke="#111" stroke-width="1.0"/>
<circle cx="341" cy="313.4" r="1.45" fill="none" stroke="#111" stroke-width="1.0"/>
<circle cx="343.4" cy="313.2" r="1.45" fill="none" stroke="#111" stroke-width="1.0"/>
<circle cx="345.4" cy="313.4" r="1.45" fill="none" stroke="#111" stroke-width="1.0"/>
<line x1="356.5" y1="272.7" x2="356.5" y2="267.9" stroke="#111" stroke-width="0.9"/>
<line x1="354.2" y1="267.5" x2="358.8" y2="267.5" stroke="#111" stroke-width="1.0"/>
<path d="M354.90,238.11L356.40,235.50L357.90,238.11Z" fill="#111"/>
<path d="M354.90,244.71L356.40,242.09L357.90,244.71Z" fill="#111"/>
<path d="M354.90,234.11L356.40,231.50L357.90,234.11Z" fill="#111"/>
<path d="M352.80,268.31L354.30,265.69L355.80,268.31Z" fill="#111"/>
<path d="M357.20,268.31L358.70,265.69L360.20,268.31Z" fill="#111"/>
<g opacity="0.55">
<path d="M352.50,277.31L354.00,274.69L355.50,277.31Z" fill="#111"/>
</g>
<g opacity="0.55">
<path d="M357.50,277.31L359.00,274.69L360.50,277.31Z" fill="#111"/>
</g>
<g opacity="0.55">
<path d="M355.00,284.31L356.50,281.69L358.00,284.31Z" fill="#111"/>
</g>
<g opacity="0.55">
<path d="M355.00,291.31L356.50,288.69L358.00,291.31Z" fill="#111"/>
</g>
<line x1="370.5" y1="297" x2="370.5" y2="294.5" stroke="#111" stroke-width="0.9"/>
<line x1="368.4" y1="294.5" x2="373.0" y2="294.5" stroke="#111" stroke-width="1.0"/>
<circle cx="370.4" cy="285.3" r="1.35" fill="#fff" stroke="#111" stroke-width="0.8"/>
<circle cx="367.3" cy="293.1" r="1.35" fill="#fff" stroke="#111" stroke-width="0.8"/>
<circle cx="370.7" cy="293.1" r="1.35" fill="#fff" stroke="#111" stroke-width="0.8"/>
<circle cx="374" cy="293.1" r="1.35" fill="#fff" stroke="#111" stroke-width="0.8"/>
<circle cx="368.5" cy="298.5" r="1.35" fill="#fff" stroke="#111" stroke-width="0.8"/>
<circle cx="373" cy="298.5" r="1.35" fill="#fff" stroke="#111" stroke-width="0.8"/>
<line x1="318.5" y1="218.5" x2="318.5" y2="316.75" stroke="#1a1a1a" stroke-width="1.1"/>
<line x1="317.75" y1="316.5" x2="380" y2="316.5" stroke="#1a1a1a" stroke-width="1.1"/>
<line x1="315.25" y1="220.5" x2="318.25" y2="220.5" stroke="#1a1a1a" stroke-width="1"/>
<text x="311.3" y="223.95" font-size="9" text-anchor="end" font-weight="normal" fill="#333" stroke="#333" stroke-width="0.18" >7</text>
<line x1="315.25" y1="234.5" x2="318.25" y2="234.5" stroke="#1a1a1a" stroke-width="1"/>
<text x="311.3" y="237.6" font-size="9" text-anchor="end" font-weight="normal" fill="#333" stroke="#333" stroke-width="0.18" >6</text>
<line x1="315.25" y1="248.5" x2="318.25" y2="248.5" stroke="#1a1a1a" stroke-width="1"/>
<text x="311.3" y="251.2" font-size="9" text-anchor="end" font-weight="normal" fill="#333" stroke="#333" stroke-width="0.18" >5</text>
<line x1="315.25" y1="261.5" x2="318.25" y2="261.5" stroke="#1a1a1a" stroke-width="1"/>
<text x="311.3" y="264.9" font-size="9" text-anchor="end" font-weight="normal" fill="#333" stroke="#333" stroke-width="0.18" >4</text>
<line x1="315.25" y1="275.5" x2="318.25" y2="275.5" stroke="#1a1a1a" stroke-width="1"/>
<text x="311.3" y="278.5" font-size="9" text-anchor="end" font-weight="normal" fill="#333" stroke="#333" stroke-width="0.18" >3</text>
<line x1="315.25" y1="289.5" x2="318.25" y2="289.5" stroke="#1a1a1a" stroke-width="1"/>
<text x="311.3" y="292.2" font-size="9" text-anchor="end" font-weight="normal" fill="#333" stroke="#333" stroke-width="0.18" >2</text>
<line x1="315.25" y1="302.5" x2="318.25" y2="302.5" stroke="#1a1a1a" stroke-width="1"/>
<text x="311.3" y="305.8" font-size="9" text-anchor="end" font-weight="normal" fill="#333" stroke="#333" stroke-width="0.18" >1</text>
<line x1="315.25" y1="316.5" x2="318.25" y2="316.5" stroke="#1a1a1a" stroke-width="1"/>
<text x="311.3" y="319.45" font-size="9" text-anchor="end" font-weight="normal" fill="#333" stroke="#333" stroke-width="0.18" >0</text>
<line x1="327.5" y1="316.25" x2="327.5" y2="319.25" stroke="#1a1a1a" stroke-width="1"/>
<line x1="341.5" y1="316.25" x2="341.5" y2="319.25" stroke="#1a1a1a" stroke-width="1"/>
<line x1="356.5" y1="316.25" x2="356.5" y2="319.25" stroke="#1a1a1a" stroke-width="1"/>
<line x1="370.5" y1="316.25" x2="370.5" y2="319.25" stroke="#1a1a1a" stroke-width="1"/>
<text transform="translate(297.6,306.6) rotate(-90)" x="0" y="0" font-size="9.2" text-anchor="start" fill="#1a1a1a" stroke="#1a1a1a" stroke-width="0.3" textLength="39.90" lengthAdjust="spacingAndGlyphs">Lymphocytes</text>
<text transform="translate(297.6,263.5) rotate(-90)" x="0" y="0" font-size="9.2" text-anchor="start" fill="#1a1a1a" stroke="#1a1a1a" stroke-width="0.3" textLength="33.70" lengthAdjust="spacingAndGlyphs">(×10<tspan font-size="6.3" dy="-2.8">3</tspan><tspan dy="2.8">/μL)</tspan></text>
<line x1="326.4" y1="213.5" x2="355.5" y2="213.5" stroke="#2e2e2e" stroke-width="1.1"/>
<line x1="326.5" y1="211.4" x2="326.5" y2="215.20000000000002" stroke="#2e2e2e" stroke-width="1.1"/>
<line x1="355.5" y1="211.4" x2="355.5" y2="215.20000000000002" stroke="#2e2e2e" stroke-width="1.1"/>
<path d="M336.88,210.65L336.88,212.55M336.05,211.12L337.70,212.07M336.05,212.07L337.70,211.12" stroke="#222" stroke-width="0.85" fill="none"/>
<path d="M339.62,210.65L339.62,212.55M338.80,211.12L340.45,212.07M338.80,212.07L340.45,211.12" stroke="#222" stroke-width="0.85" fill="none"/>
<path d="M342.38,210.65L342.38,212.55M341.55,211.12L343.20,212.07M341.55,212.07L343.20,211.12" stroke="#222" stroke-width="0.85" fill="none"/>
<path d="M345.12,210.65L345.12,212.55M344.30,211.12L345.95,212.07M344.30,212.07L345.95,211.12" stroke="#222" stroke-width="0.85" fill="none"/>
<line x1="326.4" y1="223.5" x2="370.4" y2="223.5" stroke="#2e2e2e" stroke-width="1.0"/>
<line x1="326.5" y1="221.6" x2="326.5" y2="225.4" stroke="#2e2e2e" stroke-width="1.0"/>
<line x1="370.5" y1="221.6" x2="370.5" y2="225.4" stroke="#2e2e2e" stroke-width="1.0"/>
<rect x="339.4" y="221.3" width="2.2" height="4.4" rx="0.7" fill="#1a1a1a"/>
<text x="333.7" y="221.1" font-size="8.6" text-anchor="middle" font-weight="normal" fill="#333" stroke="#333" stroke-width="0.18" >ns</text>
<path d="M354.23,219.65L354.23,221.55M353.40,220.12L355.05,221.07M353.40,221.07L355.05,220.12" stroke="#222" stroke-width="0.85" fill="none"/>
<path d="M356.98,219.65L356.98,221.55M356.15,220.12L357.80,221.07M356.15,221.07L357.80,220.12" stroke="#222" stroke-width="0.85" fill="none"/>
<line x1="341.8" y1="232.5" x2="370.4" y2="232.5" stroke="#2e2e2e" stroke-width="1.0"/>
<line x1="341.5" y1="230.6" x2="341.5" y2="234.4" stroke="#2e2e2e" stroke-width="1.0"/>
<line x1="370.5" y1="230.6" x2="370.5" y2="234.4" stroke="#2e2e2e" stroke-width="1.0"/>
<rect x="355.0" y="230.3" width="2.2" height="4.4" rx="0.7" fill="#1a1a1a"/>
<path d="M345.95,229.15L345.95,231.05M345.12,229.62L346.78,230.57M345.12,230.57L346.78,229.62" stroke="#222" stroke-width="0.85" fill="none"/>
<path d="M348.70,229.15L348.70,231.05M347.87,229.62L349.53,230.57M347.87,230.57L349.53,229.62" stroke="#222" stroke-width="0.85" fill="none"/>
<path d="M351.45,229.15L351.45,231.05M350.62,229.62L352.28,230.57M350.62,230.57L352.28,229.62" stroke="#222" stroke-width="0.85" fill="none"/>
<path d="M362.02,229.15L362.02,231.05M361.20,229.62L362.85,230.57M361.20,230.57L362.85,229.62" stroke="#222" stroke-width="0.85" fill="none"/>
<path d="M364.77,229.15L364.77,231.05M363.95,229.62L365.60,230.57M363.95,230.57L365.60,229.62" stroke="#222" stroke-width="0.85" fill="none"/>
<line x1="352.5" y1="323.5" x2="376.5" y2="323.5" stroke="#2e2e2e" stroke-width="1.0"/>
<line x1="352.5" y1="321.85" x2="352.5" y2="325.65" stroke="#2e2e2e" stroke-width="1.0"/>
<line x1="376.5" y1="321.85" x2="376.5" y2="325.65" stroke="#2e2e2e" stroke-width="1.0"/>
<text x="364.5" y="337.3" font-size="8.4" text-anchor="middle" font-weight="normal" fill="#222" stroke="#222" stroke-width="0.22" textLength="34.5" lengthAdjust="spacing" >GRANTA</text>
<text x="402.5" y="204.6" font-size="12.2" text-anchor="start" font-weight="bold" fill="#111" stroke="#111" stroke-width="0.45" >H</text>
<rect x="459.8" y="304.3" width="9" height="11.949999999999989" fill="#c6092c" stroke="#a3082a" stroke-width="0.6"/>
<rect x="474.3" y="305" width="9" height="11.25" fill="#0e4f8b" stroke="#0b3f70" stroke-width="0.6"/>
<rect x="489.8" y="274" width="9" height="42.25" fill="#c6092c" stroke="#a3082a" stroke-width="0.6"/>
<rect x="504.5" y="269.5" width="9" height="46.75" fill="#0e4f8b" stroke="#0b3f70" stroke-width="0.6"/>
<path d="M466.10,302.91L467.60,300.30L469.10,302.91Z" fill="#111"/>
<path d="M459.70,305.91L461.20,303.30L462.70,305.91Z" fill="#111"/>
<path d="M461.90,305.70L463.40,303.09L464.90,305.70Z" fill="#111"/>
<path d="M464.10,305.91L465.60,303.30L467.10,305.91Z" fill="#111"/>
<circle cx="478.8" cy="301.3" r="1.35" fill="#fff" stroke="#111" stroke-width="0.8"/>
<circle cx="482" cy="303.6" r="1.35" fill="#fff" stroke="#111" stroke-width="0.8"/>
<circle cx="477.4" cy="303.8" r="1.35" fill="#fff" stroke="#111" stroke-width="0.8"/>
<circle cx="480" cy="305.2" r="1.35" fill="#fff" stroke="#111" stroke-width="0.8"/>
<circle cx="476" cy="305.4" r="1.35" fill="#fff" stroke="#111" stroke-width="0.8"/>
<line x1="494.5" y1="274" x2="494.5" y2="266.9" stroke="#111" stroke-width="0.9"/>
<line x1="492.0" y1="266.5" x2="496.6" y2="266.5" stroke="#111" stroke-width="1.0"/>
<path d="M492.80,232.81L494.30,230.19L495.80,232.81Z" fill="#111"/>
<path d="M492.80,240.71L494.30,238.09L495.80,240.71Z" fill="#111"/>
<g opacity="0.55">
<path d="M490.50,278.31L492.00,275.69L493.50,278.31Z" fill="#111"/>
</g>
<g opacity="0.55">
<path d="M495.00,281.31L496.50,278.69L498.00,281.31Z" fill="#111"/>
</g>
<g opacity="0.55">
<path d="M491.50,285.31L493.00,282.69L494.50,285.31Z" fill="#111"/>
</g>
<g opacity="0.55">
<path d="M493.50,289.31L495.00,286.69L496.50,289.31Z" fill="#111"/>
</g>
<g opacity="0.55">
<path d="M492.50,292.31L494.00,289.69L495.50,292.31Z" fill="#111"/>
</g>
<circle cx="508.7" cy="251.2" r="1.35" fill="#fff" stroke="#111" stroke-width="0.8"/>
<circle cx="508.7" cy="263.7" r="1.35" fill="#fff" stroke="#111" stroke-width="0.8"/>
<circle cx="506" cy="266" r="1.35" fill="#fff" stroke="#111" stroke-width="0.8"/>
<circle cx="511.5" cy="266" r="1.35" fill="#fff" stroke="#111" stroke-width="0.8"/>
<circle cx="507" cy="270" r="1.35" fill="#fff" stroke="#111" stroke-width="0.8"/>
<circle cx="511" cy="272" r="1.35" fill="#fff" stroke="#111" stroke-width="0.8"/>
<g opacity="0.55">
<circle cx="508.5" cy="276" r="1.35" fill="none" stroke="#111" stroke-width="0.8"/>
</g>
<line x1="454.5" y1="214.5" x2="454.5" y2="316.75" stroke="#1a1a1a" stroke-width="1.1"/>
<line x1="453.7" y1="316.5" x2="520" y2="316.5" stroke="#1a1a1a" stroke-width="1.1"/>
<line x1="451.2" y1="217.5" x2="454.2" y2="217.5" stroke="#1a1a1a" stroke-width="1"/>
<text x="447.8" y="220.45" font-size="9" text-anchor="end" font-weight="normal" fill="#333" stroke="#333" stroke-width="0.18" >0.25</text>
<line x1="451.2" y1="237.5" x2="454.2" y2="237.5" stroke="#1a1a1a" stroke-width="1"/>
<text x="447.8" y="240.25" font-size="9" text-anchor="end" font-weight="normal" fill="#333" stroke="#333" stroke-width="0.18" >0.20</text>
<line x1="451.2" y1="256.5" x2="454.2" y2="256.5" stroke="#1a1a1a" stroke-width="1"/>
<text x="447.8" y="260.05" font-size="9" text-anchor="end" font-weight="normal" fill="#333" stroke="#333" stroke-width="0.18" >0.15</text>
<line x1="451.2" y1="276.5" x2="454.2" y2="276.5" stroke="#1a1a1a" stroke-width="1"/>
<text x="447.8" y="279.84999999999997" font-size="9" text-anchor="end" font-weight="normal" fill="#333" stroke="#333" stroke-width="0.18" >0.10</text>
<line x1="451.2" y1="296.5" x2="454.2" y2="296.5" stroke="#1a1a1a" stroke-width="1"/>
<text x="447.8" y="299.65" font-size="9" text-anchor="end" font-weight="normal" fill="#333" stroke="#333" stroke-width="0.18" >0.05</text>
<line x1="451.2" y1="316.5" x2="454.2" y2="316.5" stroke="#1a1a1a" stroke-width="1"/>
<text x="447.8" y="319.45" font-size="9" text-anchor="end" font-weight="normal" fill="#333" stroke="#333" stroke-width="0.18" >0.00</text>
<line x1="464.5" y1="316.25" x2="464.5" y2="319.25" stroke="#1a1a1a" stroke-width="1"/>
<line x1="478.5" y1="316.25" x2="478.5" y2="319.25" stroke="#1a1a1a" stroke-width="1"/>
<line x1="494.5" y1="316.25" x2="494.5" y2="319.25" stroke="#1a1a1a" stroke-width="1"/>
<line x1="509.5" y1="316.25" x2="509.5" y2="319.25" stroke="#1a1a1a" stroke-width="1"/>
<text transform="translate(420.8,296.8) rotate(-90)" x="0" y="0" font-size="9.2" text-anchor="start" fill="#1a1a1a" stroke="#1a1a1a" stroke-width="0.3" textLength="59.10" lengthAdjust="spacingAndGlyphs">Spleen weight (g)</text>
<line x1="463.4" y1="205.5" x2="493.3" y2="205.5" stroke="#2e2e2e" stroke-width="1.1"/>
<line x1="463.5" y1="203.5" x2="463.5" y2="207.3" stroke="#2e2e2e" stroke-width="1.1"/>
<line x1="493.5" y1="203.5" x2="493.5" y2="207.3" stroke="#2e2e2e" stroke-width="1.1"/>
<path d="M475.95,201.85L475.95,203.75M475.12,202.33L476.78,203.28M475.12,203.28L476.78,202.33" stroke="#222" stroke-width="0.85" fill="none"/>
<path d="M478.70,201.85L478.70,203.75M477.87,202.33L479.53,203.28M477.87,203.28L479.53,202.33" stroke="#222" stroke-width="0.85" fill="none"/>
<path d="M481.45,201.85L481.45,203.75M480.62,202.33L482.28,203.28M480.62,203.28L482.28,202.33" stroke="#222" stroke-width="0.85" fill="none"/>
<line x1="463.4" y1="214.5" x2="508.6" y2="214.5" stroke="#2e2e2e" stroke-width="1.0"/>
<line x1="463.5" y1="213.0" x2="463.5" y2="216.8" stroke="#2e2e2e" stroke-width="1.0"/>
<line x1="508.5" y1="213.0" x2="508.5" y2="216.8" stroke="#2e2e2e" stroke-width="1.0"/>
<rect x="476.79999999999995" y="212.70000000000002" width="2.2" height="4.4" rx="0.7" fill="#1a1a1a"/>
<text x="470.6" y="212.5" font-size="8.6" text-anchor="middle" font-weight="normal" fill="#333" stroke="#333" stroke-width="0.18" >ns</text>
<path d="M492.43,212.15L492.43,214.05M491.60,212.62L493.25,213.57M491.60,213.57L493.25,212.62" stroke="#222" stroke-width="0.85" fill="none"/>
<path d="M495.18,212.15L495.18,214.05M494.35,212.62L496.00,213.57M494.35,213.57L496.00,212.62" stroke="#222" stroke-width="0.85" fill="none"/>
<line x1="494.8" y1="224.5" x2="508.6" y2="224.5" stroke="#2e2e2e" stroke-width="1.1"/>
<line x1="494.5" y1="222.4" x2="494.5" y2="226.20000000000002" stroke="#2e2e2e" stroke-width="1.1"/>
<line x1="508.5" y1="222.4" x2="508.5" y2="226.20000000000002" stroke="#2e2e2e" stroke-width="1.1"/>
<text x="502" y="222.4" font-size="8.6" text-anchor="middle" font-weight="normal" fill="#333" stroke="#333" stroke-width="0.18" >ns</text>
<line x1="490" y1="323.5" x2="514.25" y2="323.5" stroke="#2e2e2e" stroke-width="1.0"/>
<line x1="490.5" y1="321.85" x2="490.5" y2="325.65" stroke="#2e2e2e" stroke-width="1.0"/>
<line x1="514.5" y1="321.85" x2="514.5" y2="325.65" stroke="#2e2e2e" stroke-width="1.0"/>
<text x="503.4" y="337.3" font-size="8.4" text-anchor="middle" font-weight="normal" fill="#222" stroke="#222" stroke-width="0.22" textLength="36" lengthAdjust="spacing" >GRANTA</text>
<path d="M56.55,160.04L58.20,157.16L59.85,160.04Z" fill="#111"/>
<text x="63.1" y="160.7" font-size="8.5" text-anchor="start" font-weight="normal" fill="#222" stroke="#222" stroke-width="0.18" >NSG</text>
<circle cx="58.2" cy="166.6" r="1.45" fill="none" stroke="#111" stroke-width="0.8"/>
<text x="63.1" y="169.3" font-size="8.5" text-anchor="start" font-weight="normal" fill="#222" stroke="#222" stroke-width="0.18" >NSG <tspan font-style="italic">Mpl</tspan><tspan font-size="5.8" dy="-3.4">−/−</tspan></text>
<path d="M56.45,350.34L58.10,347.46L59.75,350.34Z" fill="#111"/>
<text x="63.0" y="351.1" font-size="8.5" text-anchor="start" font-weight="normal" fill="#222" stroke="#222" stroke-width="0.18" >NSG</text>
<circle cx="58.1" cy="356.9" r="1.45" fill="none" stroke="#111" stroke-width="0.8"/>
<text x="63.0" y="359.8" font-size="8.5" text-anchor="start" font-weight="normal" fill="#222" stroke="#222" stroke-width="0.18" >NSG <tspan font-style="italic">Mpl</tspan><tspan font-size="5.8" dy="-3.4">−/−</tspan></text>
</svg>
</body></html>
